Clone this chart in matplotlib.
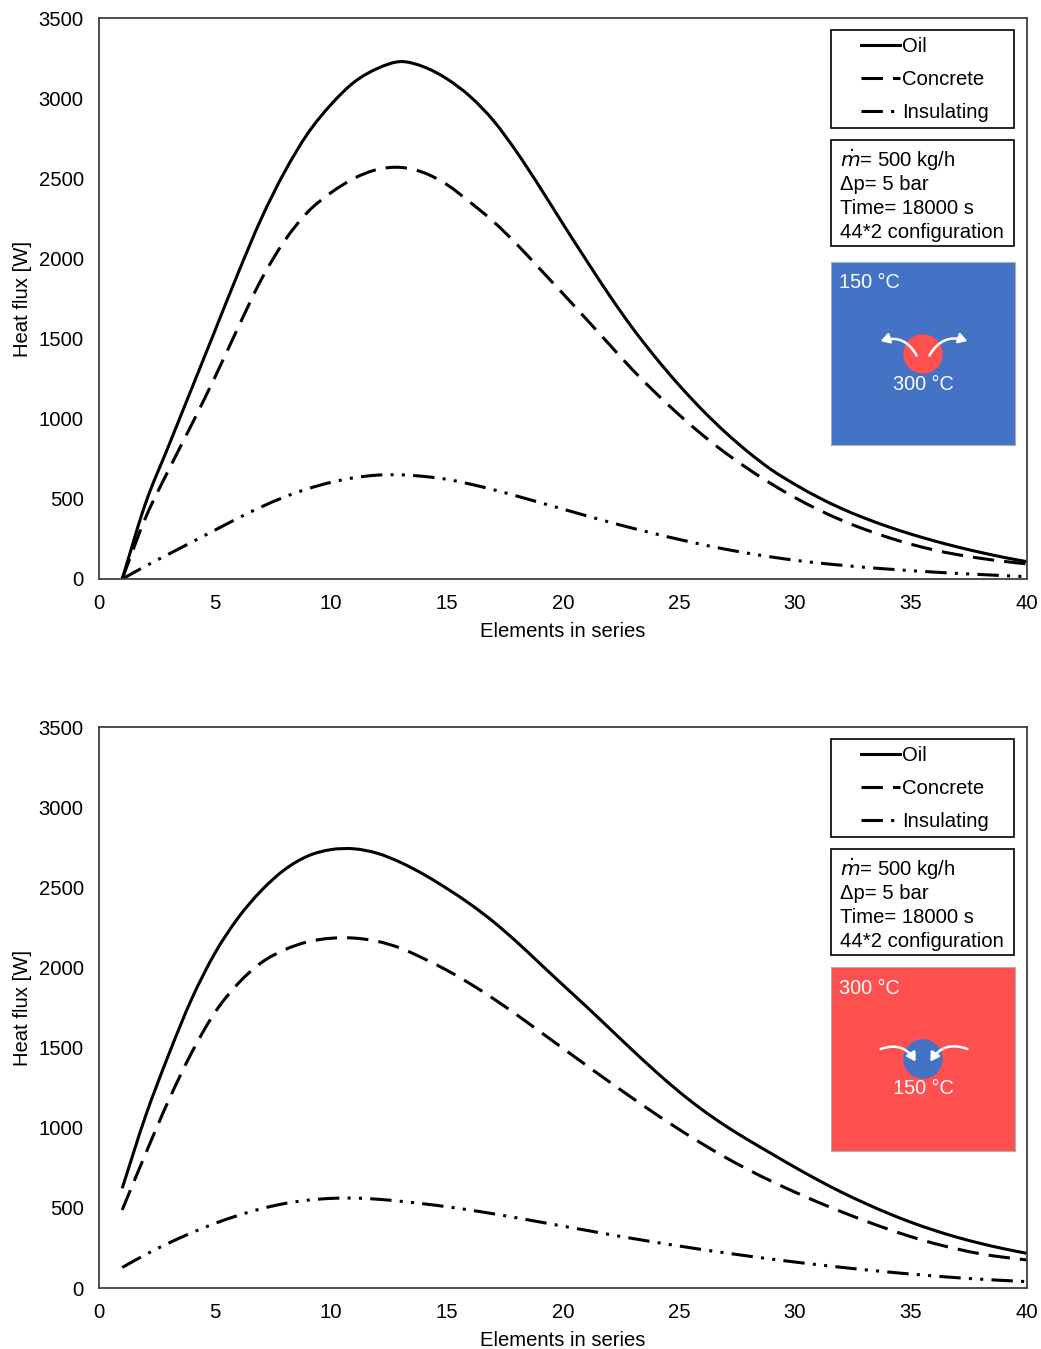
import matplotlib
matplotlib.use('Agg')
import matplotlib.pyplot as plt
from matplotlib.patches import Rectangle, Circle, FancyArrowPatch, PathPatch
from matplotlib.path import Path
from matplotlib.lines import Line2D

plt.rcParams['font.family'] = ['Liberation Sans', 'DejaVu Sans']

W, H = 1041, 1349

elements = list(range(1, 41))

# ---- top: hot pipe (300 C) in cold storage (150 C) ----
top_oil = [0, 470, 830, 1190, 1550, 1910, 2250, 2540, 2780, 2960,
           3100, 3185, 3228, 3195, 3120, 3010, 2860, 2665, 2445, 2215,
           1990, 1770, 1565, 1380, 1210, 1055, 915, 790, 680, 590,
           510, 440, 380, 327, 280, 238, 200, 166, 135, 108]
top_concrete = [0, 380, 680, 965, 1260, 1570, 1870, 2110, 2290, 2410,
                2500, 2555, 2568, 2535, 2460, 2350, 2230, 2090, 1935, 1780,
                1622, 1463, 1305, 1160, 1025, 900, 787, 685, 592, 508,
                433, 367, 310, 260, 217, 181, 152, 129, 110, 94]
top_insulating = [0, 80, 155, 230, 305, 380, 450, 512, 563, 603,
                  632, 648, 650, 640, 622, 592, 557, 518, 477, 436,
                  395, 355, 317, 281, 247, 215, 186, 160, 137, 117,
                  100, 86, 73, 62, 52, 43, 35, 28, 21, 15]

# ---- bottom: cold pipe (150 C) in hot storage (300 C) ----
bot_oil = [622, 1070, 1455, 1805, 2090, 2310, 2480, 2610, 2695, 2735,
           2740, 2712, 2655, 2580, 2492, 2395, 2285, 2160, 2025, 1890,
           1757, 1620, 1483, 1350, 1225, 1112, 1012, 922, 837, 753,
           673, 598, 530, 467, 410, 360, 316, 278, 245, 216]
bot_concrete = [487, 835, 1170, 1470, 1720, 1900, 2030, 2110, 2160, 2182,
                2183, 2163, 2120, 2055, 1982, 1898, 1805, 1705, 1600, 1495,
                1390, 1286, 1184, 1085, 990, 900, 815, 737, 665, 598,
                535, 476, 420, 368, 320, 278, 243, 213, 192, 175]
bot_insulating = [128, 208, 280, 345, 403, 453, 495, 527, 548, 559,
                  561, 554, 541, 525, 507, 486, 463, 438, 412, 386,
                  360, 334, 309, 285, 262, 240, 219, 199, 180, 162,
                  145, 129, 114, 100, 87, 75, 64, 55, 47, 40]

labels = ['Oil', 'Concrete', 'Insulating']
info_lines = [r'$\dot{m}$= 500 kg/h', '\u0394p= 5 bar', 'Time= 18000 s', '44*2 configuration']
y_ticks = [0, 500, 1000, 1500, 2000, 2500, 3000, 3500]
x_ticks = [0, 5, 10, 15, 20, 25, 30, 35, 40]

BLUE = '#4472C4'
RED = '#FF5050'
FS = 14.6
LW = 2.2
STYLES = [None, (7, 3.3), (7, 2.7, 1, 2.7, 1, 2.7)]


def fig_box(x, y, w, h):
    return [x / W, 1 - (y + h) / H, w / W, h / H]


def fp(x, y):
    return (x / W, 1 - y / H)


def smooth_line(ax, x, y, dashes):
    # smoothed line like the spreadsheet chart: cubic segments through the data points
    n = len(x)
    slopes = []
    for i in range(n):
        a, b = max(i - 1, 0), min(i + 1, n - 1)
        slopes.append((y[b] - y[a]) / (x[b] - x[a]))
    verts = [(x[0], y[0])]
    codes = [Path.MOVETO]
    for i in range(n - 1):
        h = (x[i + 1] - x[i]) / 3
        verts += [(x[i] + h, y[i] + slopes[i] * h),
                  (x[i + 1] - h, y[i + 1] - slopes[i + 1] * h),
                  (x[i + 1], y[i + 1])]
        codes += [Path.CURVE4] * 3
    patch = PathPatch(Path(verts, codes), fill=False, edgecolor='black', lw=LW,
                      capstyle='butt', joinstyle='round')
    if dashes:
        patch.set_linestyle((0, dashes))
    ax.add_patch(patch)


def draw_panel(fig, top, series, outer, inner, inset_top, inset_h, outward):
    ax = fig.add_axes(fig_box(99, top, 928, 561))
    handles = []
    for y, lab, ds in zip(series, labels, STYLES):
        smooth_line(ax, elements, y, ds)
        h = Line2D([], [], color='black', lw=LW, label=lab)
        if ds:
            h.set_dashes(ds)
        handles.append(h)
    ax.set_xlim(0, 40)
    ax.set_ylim(0, 3500)
    ax.set_xticks(x_ticks)
    ax.set_yticks(y_ticks)
    ax.tick_params(length=0, labelsize=FS, pad=11)
    for s in ax.spines.values():
        s.set_color('#404040')
        s.set_linewidth(1.3)
    ax.set_xlabel('Elements in series', fontsize=FS, labelpad=6)
    ax.set_ylabel('Heat flux [W]', fontsize=FS, labelpad=5)

    # legend box
    fig.add_artist(Rectangle(fp(831, top + 12 + 98), 183 / W, 98 / H, transform=fig.transFigure,
                             fill=False, edgecolor='black', lw=1.2))
    ax.legend(handles=handles, loc='upper left', bbox_to_anchor=fp(861, top + 19),
              bbox_transform=fig.transFigure, frameon=False, fontsize=FS,
              handlelength=1.9, handletextpad=0.12, labelspacing=0.7,
              borderpad=0, borderaxespad=0)

    # info box
    fig.add_artist(Rectangle(fp(831, top + 122 + 106), 183 / W, 106 / H, transform=fig.transFigure,
                             fill=False, edgecolor='black', lw=1.2))
    for i, line in enumerate(info_lines):
        fig.text(*fp(840, top + 142 + 24.3 * i), line, fontsize=FS, va='center', ha='left')

    # sketch of pipe in storage
    ins = fig.add_axes(fig_box(831, inset_top, 184, inset_h))
    ins.set_xlim(0, 184)
    ins.set_ylim(inset_h, 0)
    ins.set_facecolor(outer[0])
    ins.set_xticks([])
    ins.set_yticks([])
    for s in ins.spines.values():
        s.set_color('#b0b0b0')
        s.set_linewidth(0.8)
    ins.add_patch(Circle((92, 92), 19, color=inner[0], zorder=2))
    ins.text(8, 21, outer[1], color='white', fontsize=14.3, va='center', ha='left')
    ins.text(92, 122, inner[1], color='white', fontsize=14.3, va='center', ha='center')
    if outward:
        arrows = [((87, 96), (47, 80), 0.45), ((97, 96), (139, 80), -0.45)]
    else:
        arrows = [((47, 83), (86, 97), -0.45), ((139, 83), (98, 97), 0.45)]
    for start, end, rad in arrows:
        ins.add_patch(FancyArrowPatch(start, end, connectionstyle=f'arc3,rad={rad}',
                                      arrowstyle='-|>,head_length=5,head_width=3',
                                      color='white', lw=1.8, zorder=3))
    return ax


fig = plt.figure(figsize=(W / 100, H / 100), dpi=100)
draw_panel(fig, 18, [top_oil, top_concrete, top_insulating],
           (BLUE, '150 \u00b0C'), (RED, '300 \u00b0C'), 262, 183, True)
draw_panel(fig, 727, [bot_oil, bot_concrete, bot_insulating],
           (RED, '300 \u00b0C'), (BLUE, '150 \u00b0C'), 967, 184, False)

fig.savefig('out.png', dpi=100)
